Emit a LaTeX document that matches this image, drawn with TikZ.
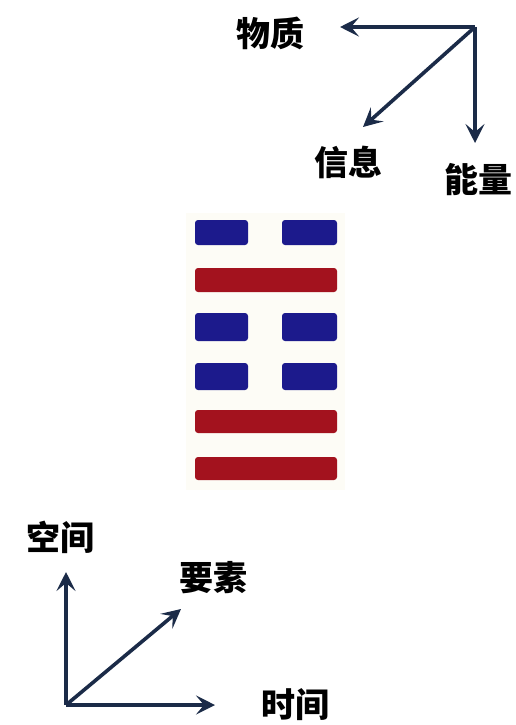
\documentclass[tikz,border=0pt]{standalone}
\usepackage{fontspec}
\newfontfamily\cjk{Noto Sans CJK SC}
\usetikzlibrary{arrows.meta}
\definecolor{axis}{HTML}{1B2B48}
\definecolor{yinblue}{HTML}{1C1A8C}
\definecolor{yangred}{HTML}{A3121E}
\definecolor{bgpale}{HTML}{FDFCF6}
\tikzset{
  axisarrow/.style={draw=axis, line width=3.6pt, -{Stealth[length=19pt,width=19pt,inset=8pt]}},
  label/.style={font=\cjk\bfseries\fontsize{34}{34}\selectfont, inner sep=0pt, text=black},
  yin/.style={fill=yinblue, rounded corners=3pt, draw=none},
  yang/.style={fill=yangred, rounded corners=3pt, draw=none}
}
\begin{document}
\begin{tikzpicture}[x=1pt,y=-1pt]
\useasboundingbox (0,0) rectangle (516,725);
% top axes
\coordinate (o1) at (475,27);
\coordinate (wz) at (340,27);
\coordinate (xx) at (363,127);
\coordinate (nl) at (475,143);
\draw[axisarrow] (o1) -- (wz);
\draw[axisarrow] (o1) -- (xx);
\draw[axisarrow] (o1) -- (nl);
\node[label] (t1) at (270,33) {物质};
\node[label] (t2) at (348,162) {信息};
\node[label] (t3) at (478,180) {能量};
% hexagram
\fill[bgpale] (186,213) rectangle (345,490);
\path[yin] (195,220) rectangle (248,245);
\path[yin] (282,220) rectangle (337,245);
\path[yang] (195,268) rectangle (337,292);
\path[yin] (195,313) rectangle (248,341);
\path[yin] (282,313) rectangle (337,341);
\path[yin] (195,363) rectangle (248,390);
\path[yin] (282,363) rectangle (337,390);
\path[yang] (195,410) rectangle (337,433);
\path[yang] (195,457) rectangle (337,480);
% bottom axes
\coordinate (o2) at (66,705);
\coordinate (kj) at (66,572);
\coordinate (sj) at (215,705);
\coordinate (ys) at (181,609);
\draw[axisarrow] (o2) -- (kj);
\draw[axisarrow] (o2) -- (sj);
\draw[axisarrow] (o2) -- (ys);
\node[label] (b1) at (60,537) {空间};
\node[label] (b2) at (213,578) {要素};
\node[label] (b3) at (295,705) {时间};
\end{tikzpicture}
\end{document}
